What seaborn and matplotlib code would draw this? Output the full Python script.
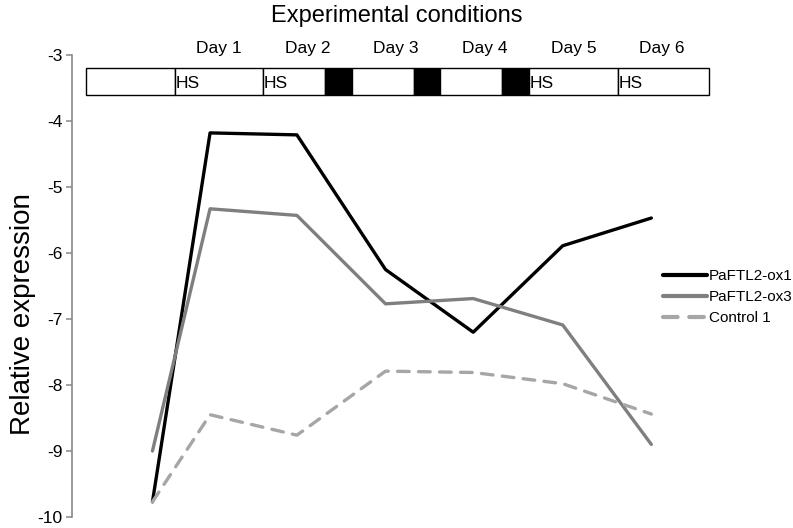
import pandas as pd
import numpy as np
import matplotlib
matplotlib.use('Agg')
import matplotlib.pyplot as plt
import seaborn as sns

# time points (days) and expression values
days = [0.75, 1.4, 2.38, 3.38, 4.37, 5.38, 6.38]
ox1 = [-9.77, -4.18, -4.21, -6.25, -7.2, -5.89, -5.47]
ox3 = [-9.0, -5.33, -5.43, -6.77, -6.69, -7.09, -8.9]
ctrl = [-9.77, -8.45, -8.76, -7.79, -7.81, -7.98, -8.44]
series_names = ['PaFTL2-ox1', 'PaFTL2-ox3', 'Control 1']

# experimental conditions bar
seg_start = [0, 1, 2, 2.7, 3, 3.7, 4, 4.7, 5, 6]
seg_end = [1, 2, 2.7, 3, 3.7, 4, 4.7, 5, 6, 7.03]
seg_dark = [0, 0, 0, 1, 0, 1, 0, 1, 0, 0]
seg_text = ['', 'HS', 'HS', '', '', '', '', '', 'HS', 'HS']
day_labels = ['Day 1', 'Day 2', 'Day 3', 'Day 4', 'Day 5', 'Day 6']
day_pos = [1.5, 2.5, 3.5, 4.5, 5.5, 6.5]

sns.set_style('white')
plt.rcParams['font.family'] = ['Liberation Sans', 'DejaVu Sans']
plt.rcParams['axes.unicode_minus'] = False
plt.rcParams['text.color'] = 'black'
plt.rcParams['axes.labelcolor'] = 'black'
plt.rcParams['ytick.labelcolor'] = 'black'

df = pd.DataFrame({'day': days * 3,
                   'expr': ox1 + ox3 + ctrl,
                   'line': np.repeat(series_names, len(days))})

fig = plt.figure(figsize=(7.93, 5.28), dpi=100)
ax = fig.add_axes([0.0908, 0.0208, 0.811, 0.875])

colors = {'PaFTL2-ox1': '#000000', 'PaFTL2-ox3': '#7f7f7f', 'Control 1': '#a6a6a6'}
for name in series_names:
    sub = df[df['line'] == name]
    sns.lineplot(data=sub, x='day', y='expr', ax=ax, color=colors[name],
                 linewidth=2.4, label=name, sort=False,
                 linestyle='--' if name == 'Control 1' else '-')
for l in ax.lines:
    if l.get_linestyle() == '--':
        l.set_dashes((3.5, 2.8))
        l.set_dash_capstyle('round')

# condition bar
widths = [e - s for s, e in zip(seg_start, seg_end)]
ax.barh([-3.4] * len(seg_start), widths, left=seg_start, height=0.4,
        color=['black' if d else 'white' for d in seg_dark],
        edgecolor='black', linewidth=1.0)
for s, t in zip(seg_start, seg_text):
    if t:
        ax.text(s + 0.01, -3.43, t, fontsize=12.5, ha='left', va='center')
for p, t in zip(day_pos, day_labels):
    ax.text(p, -2.9, t, fontsize=12.5, ha='center', va='center', clip_on=False)

fig.text(0.5, 1 - 16 / 528, 'Experimental conditions', fontsize=17,
         ha='center', va='center')

ax.set_xlim(-0.158, 7.1)
ax.set_ylim(-10, -3)
ax.set_yticks(range(-10, -2))
ax.set_xticks([])
ax.set_xlabel('')
ax.set_ylabel('Relative expression', fontsize=20)
ax.yaxis.set_label_coords(-0.056, 0.44)
sns.despine(ax=ax, bottom=True)
ax.spines['left'].set_color('#888888')
ax.spines['left'].set_linewidth(1.2)
ax.tick_params(axis='y', left=True, length=4, width=1.1, color='#888888',
               labelsize=12.5, pad=3)

leg = ax.legend(loc='center left', bbox_to_anchor=(0.836, 0.4375),
                bbox_transform=fig.transFigure, frameon=False, fontsize=11,
                handlelength=2.9, handletextpad=0.1, labelspacing=0.45,
                borderpad=0, borderaxespad=0)
for h in leg.get_lines():
    h.set_linewidth(3)

fig.savefig('out.png', dpi=100)
